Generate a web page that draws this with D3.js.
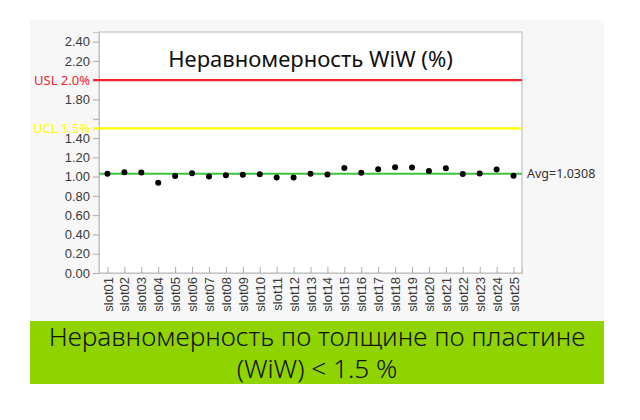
<!DOCTYPE html>
<html lang="ru">
<head>
<meta charset="utf-8">
<title>Неравномерность WiW (%)</title>
<script src="https://cdn.jsdelivr.net/npm/d3@7"></script>
<style>
  body { margin: 0; background: #fff; }
  svg { display: block; font-family: "Noto Sans", "Open Sans", sans-serif; }
</style>
</head>
<body>
<svg width="640" height="420"></svg>
<script>
// data
var slots = ["slot01","slot02","slot03","slot04","slot05","slot06","slot07","slot08","slot09","slot10",
             "slot11","slot12","slot13","slot14","slot15","slot16","slot17","slot18","slot19","slot20",
             "slot21","slot22","slot23","slot24","slot25"];
var wiw = [1.030, 1.045, 1.042, 0.935, 1.007, 1.035, 1.000, 1.014, 1.020, 1.025,
           0.990, 0.990, 1.030, 1.022, 1.088, 1.041, 1.076, 1.097, 1.094, 1.059,
           1.087, 1.027, 1.031, 1.073, 1.010];
var avgValue = 1.0308;
var limits = [
  { name: "USL 2.0%", value: 2.0, color: "#f5232f" },
  { name: "UCL 1.5%", value: 1.5, color: "#ffff00" }
];
var yTicks = [0, 0.2, 0.4, 0.6, 0.8, 1.0, 1.2, 1.4, 1.6, 1.8, 2.0, 2.2, 2.4];
var hiddenTickLabels = [1.6, 2.0];
var chartTitle = "Неравномерность WiW (%)";
var bannerLines = ["Неравномерность по толщине по пластине", "(WiW) < 1.5 %"];

var svg = d3.select("svg");

// light grey panel behind the chart
svg.append("rect").attr("x", 30).attr("y", 20).attr("width", 574).attr("height", 301).attr("fill", "#f7f7f7");

var pLeft = 99, pTop = 32, pRight = 522, pBottom = 273;

var x = d3.scalePoint().domain(slots).range([pLeft, pRight]).padding(0.5);
var y = d3.scaleLinear().domain([0, 2.5]).range([pBottom, pTop]);

svg.append("rect")
  .attr("x", pLeft).attr("y", pTop)
  .attr("width", pRight - pLeft).attr("height", pBottom - pTop)
  .attr("fill", "#fff").attr("stroke", "#c4c4c4").attr("stroke-width", 1.2);

// y axis
var yAxis = svg.append("g")
  .attr("transform", "translate(" + pLeft + ",0)")
  .call(d3.axisLeft(y).tickValues(yTicks).tickSize(6).tickPadding(3)
    .tickFormat(function(d) {
      return hiddenTickLabels.some(function(h) { return Math.abs(h - d) < 1e-9; }) ? "" : d.toFixed(2);
    }));
yAxis.select(".domain").attr("stroke", "#c4c4c4");
yAxis.selectAll(".tick line").attr("stroke", "#aaa");
yAxis.selectAll(".tick text").attr("fill", "#3a3a3a").style("font-size", "13px");

// x axis, ticks point up into the plot
var xAxis = svg.append("g")
  .attr("transform", "translate(0," + pBottom + ")")
  .call(d3.axisBottom(x).tickSize(-6));
xAxis.select(".domain").attr("stroke", "#c4c4c4");
xAxis.selectAll(".tick line").attr("stroke", "#aaa");
xAxis.selectAll(".tick text")
  .attr("transform", "rotate(-90)")
  .attr("x", -4).attr("y", 0).attr("dy", "0.35em")
  .style("text-anchor", "end")
  .attr("fill", "#3a3a3a")
  .style("font-size", "13px");

// limit lines
limits.forEach(function(l) {
  svg.append("line")
    .attr("x1", pLeft - 6).attr("x2", pRight)
    .attr("y1", y(l.value)).attr("y2", y(l.value))
    .attr("stroke", l.color).attr("stroke-width", 2.2);
  svg.append("text")
    .attr("x", pLeft - 9).attr("y", y(l.value)).attr("dy", "0.35em")
    .attr("text-anchor", "end")
    .attr("fill", l.color)
    .style("font-size", "13px")
    .text(l.name);
});

// average line
svg.append("line")
  .attr("x1", pLeft).attr("x2", pRight)
  .attr("y1", y(avgValue)).attr("y2", y(avgValue))
  .attr("stroke", "#3cc43c").attr("stroke-width", 2);
svg.append("text")
  .attr("x", pRight + 5).attr("y", y(avgValue)).attr("dy", "0.35em")
  .attr("fill", "#333")
  .style("font-size", "12.5px")
  .text("Avg=" + avgValue);

// points
svg.selectAll(".pt")
  .data(wiw)
  .enter().append("circle")
  .attr("class", "pt")
  .attr("cx", function(d, i) { return x(slots[i]); })
  .attr("cy", function(d) { return y(d); })
  .attr("r", 3)
  .attr("fill", "#000");

// title
svg.append("text")
  .attr("x", (pLeft + pRight) / 2).attr("y", 67)
  .attr("text-anchor", "middle")
  .attr("fill", "#111")
  .style("font-size", "22px")
  .text(chartTitle);

// green banner
svg.append("rect").attr("x", 30).attr("y", 321).attr("width", 574).attr("height", 63).attr("fill", "#8fd400");
var b1 = svg.append("text")
  .attr("x", 317).attr("y", 346)
  .attr("text-anchor", "middle")
  .attr("fill", "#111")
  .style("font-size", "26px")
  .style("font-weight", 300)
  .text(bannerLines[0]);
var w = b1.node().getComputedTextLength();
var fs = 26 * 537 / w;
b1.style("font-size", fs + "px");
svg.append("text")
  .attr("x", 317).attr("y", 378)
  .attr("text-anchor", "middle")
  .attr("fill", "#111")
  .style("font-size", fs + "px")
  .style("font-weight", 300)
  .text(bannerLines[1]);
</script>
</body>
</html>
